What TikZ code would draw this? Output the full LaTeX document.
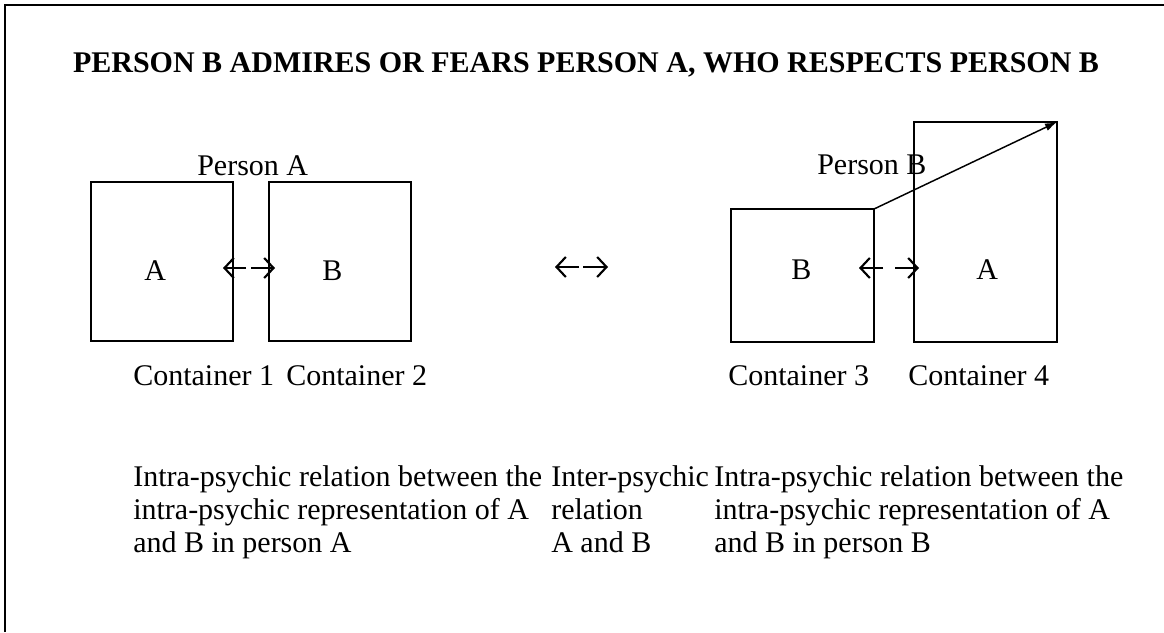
\documentclass[tikz,border=0pt]{standalone}
\usepackage{fontspec}
\setmainfont{Liberation Serif}
\usetikzlibrary{arrows.meta}
\begin{document}
\begin{tikzpicture}[x=0.75pt,y=-0.75pt,
  font=\fontsize{22.5pt}{25pt}\selectfont,
  container/.style={draw, line width=1.1pt, inner sep=0pt, outer sep=0pt, anchor=north west},
  label/.style={inner sep=0pt, anchor=base west},
  para/.style={inner sep=0pt, anchor=north west, align=left},
  halfarrow/.style={line width=1.6pt, -{Straight Barb[length=7pt, width=15pt, line width=1.6pt]}},
  link/.style={line width=1.1pt, -{Latex[length=9pt, width=6pt]}}]
\useasboundingbox (0,0) rectangle (1164,632);
% frame along the top and left edges
\draw[line width=1.5pt] (4.5,632) -- (4.5,4.5) -- (1164,4.5);

% heading
\node[inner sep=0pt, anchor=base, font=\fontsize{22.5pt}{25pt}\selectfont\bfseries] (title) at (586,72)
  {PERSON B ADMIRES OR FEARS PERSON A, WHO RESPECTS PERSON B};

% containers
\node[container, minimum width=106.5pt, minimum height=119.25pt] (c1) at (91,182) {};
\node[container, minimum width=106.5pt, minimum height=119.25pt] (c2) at (269,182) {};
\node[container, minimum width=107.25pt, minimum height=99.75pt] (c3) at (731,209) {};
\node[container, minimum width=107.25pt, minimum height=165pt] (c4) at (914,122) {};

% person labels
\node[label] (pa) at (197,175) {Person A};
\node[label] (pb) at (817,174) {Person B};

% letters inside the containers
\node[label] (a1) at (144,280) {A};
\node[label] (b2) at (322,280) {B};
\node[label] (b3) at (791,279) {B};
\node[label] (a4) at (976,279) {A};

% two-way arrows
\coordinate (l1s) at (246,268); \coordinate (l1e) at (223,268);
\coordinate (r1s) at (251,268); \coordinate (r1e) at (275,268);
\draw[halfarrow] (l1s) -- (l1e);
\draw[halfarrow] (r1s) -- (r1e);
\coordinate (lms) at (579,267); \coordinate (lme) at (555,267);
\coordinate (rms) at (583,267); \coordinate (rme) at (608,267);
\draw[halfarrow] (lms) -- (lme);
\draw[halfarrow] (rms) -- (rme);
\coordinate (l3s) at (883,268); \coordinate (l3e) at (859,268);
\coordinate (r3s) at (895,268); \coordinate (r3e) at (919,268);
\draw[halfarrow] (l3s) -- (l3e);
\draw[halfarrow] (r3s) -- (r3e);

% link from container 3 to the top of container 4
\draw[link] (c3.north east) -- (c4.north east);

% container captions
\node[label] (n1) at (133,385) {Container 1};
\node[label] (n2) at (286,385) {Container 2};
\node[label] (n3) at (728,385) {Container 3};
\node[label] (n4) at (908,385) {Container 4};

% descriptions
\node[para] (d1) at (133,465) {Intra-psychic relation between the\\intra-psychic representation of A\\and B in person A};
\node[para] (d2) at (551,465) {Inter-psychic\\relation\\A and B};
\node[para] (d3) at (714,465) {Intra-psychic relation between the\\intra-psychic representation of A\\and B in person B};
\end{tikzpicture}
\end{document}
